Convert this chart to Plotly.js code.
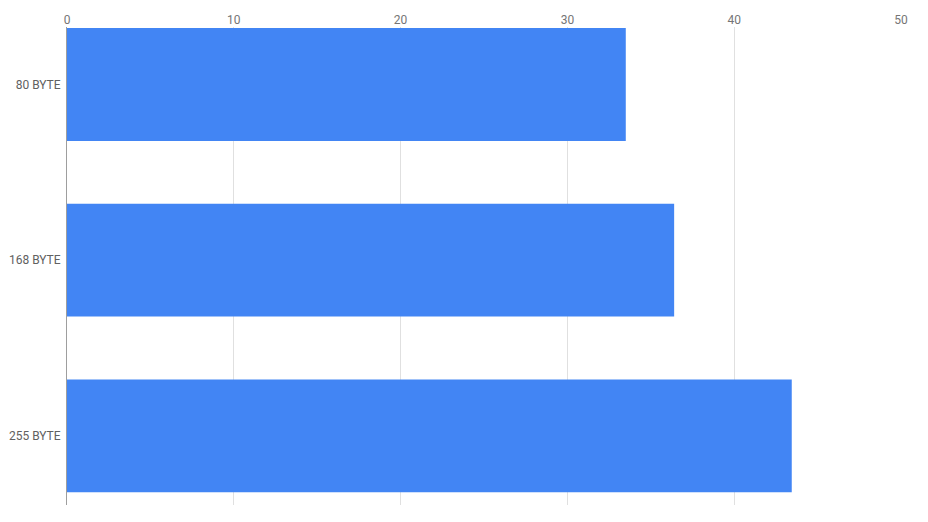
<!DOCTYPE html>
<html>
<head>
<meta charset="utf-8">
<script src="https://cdn.plot.ly/plotly-3.0.1.min.js"></script>
<style>html,body{margin:0;padding:0;background:#fff}#chart{width:928px;height:522px}</style>
</head>
<body>
<div id="chart"></div>
<script>
const categories = ["80 BYTE", "168 BYTE", "255 BYTE"];
const values = [33.5, 36.4, 43.45];
const xTicks = [0, 10, 20, 30, 40, 50];

const trace = {
  type: "bar",
  orientation: "h",
  y: categories,
  x: values,
  width: 0.642,
  marker: {color: "#4285f4", line: {width: 0}},
  hoverinfo: "x+y"
};

const layout = {
  width: 928,
  height: 522,
  margin: {l: 67, r: 27, t: 27, b: 17, pad: 0},
  paper_bgcolor: "#ffffff",
  plot_bgcolor: "#ffffff",
  showlegend: false,
  font: {family: "Roboto, sans-serif", size: 12, color: "#757575"},
  xaxis: {
    side: "top",
    range: [0, 50],
    tickvals: xTicks,
    ticktext: xTicks.map(String),
    showgrid: true,
    gridcolor: "#e0e0e0",
    gridwidth: 1,
    zeroline: false,
    showline: false,
    ticks: "",
    ticklabelstandoff: 0,
    tickfont: {family: "Roboto, sans-serif", size: 12, color: "#757575"}
  },
  yaxis: {
    type: "category",
    range: [2.393, -0.327],
    showgrid: false,
    zeroline: false,
    showline: true,
    linecolor: "#9e9e9e",
    linewidth: 1,
    ticks: "",
    ticklabelstandoff: 3,
    tickfont: {family: "Roboto, sans-serif", size: 12, color: "#616161"}
  }
};

Plotly.newPlot("chart", [trace], layout, {displayModeBar: false, staticPlot: true});
</script>
</body>
</html>
